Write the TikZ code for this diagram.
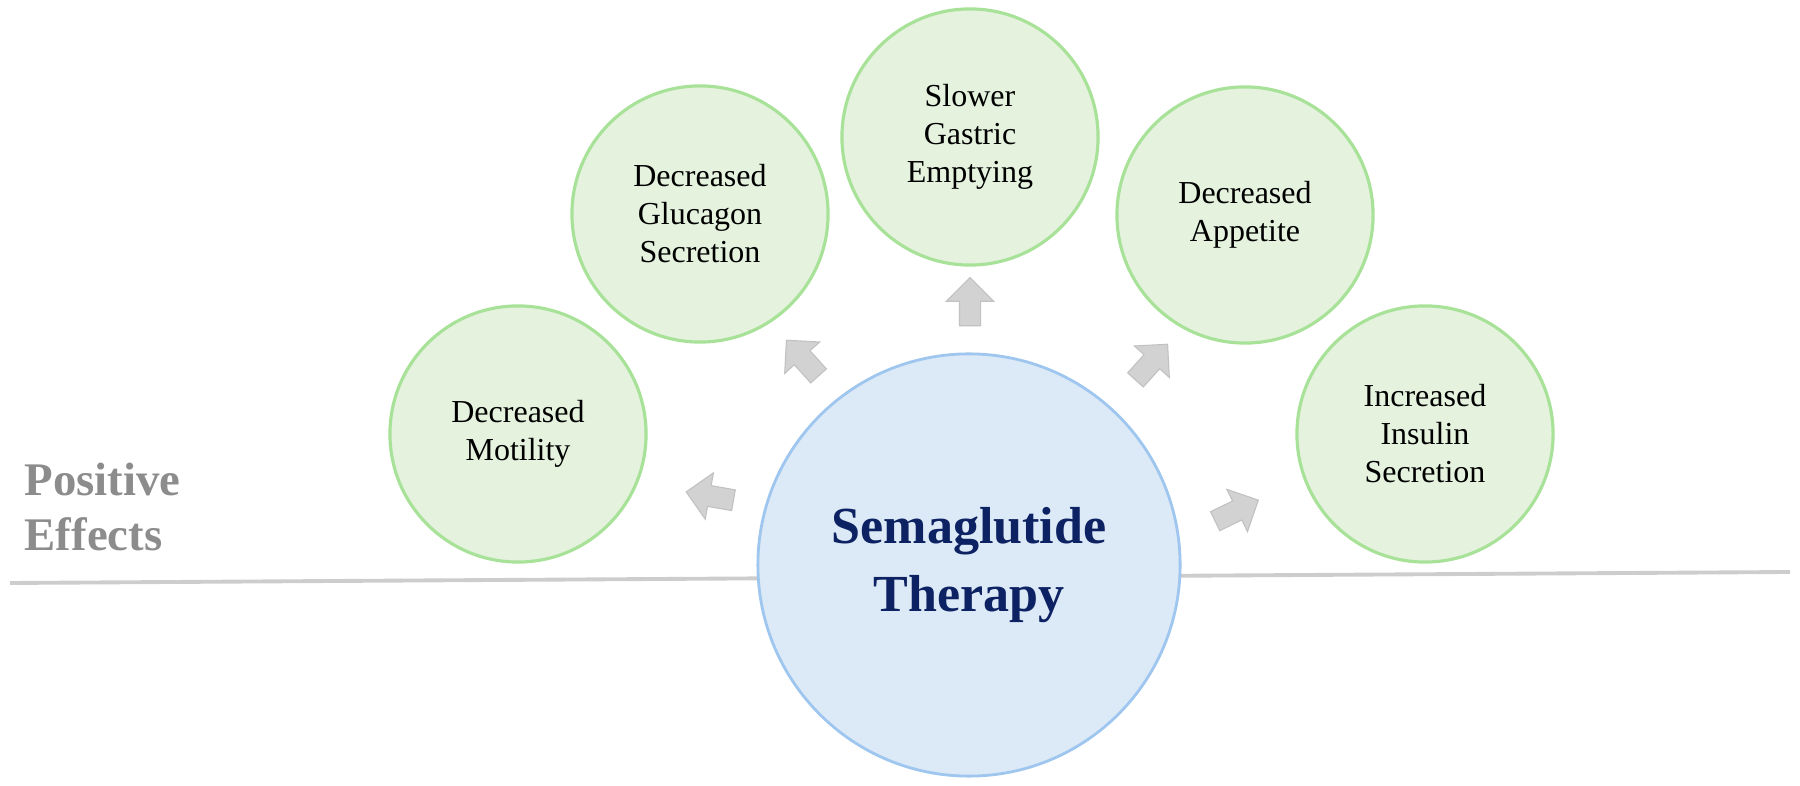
\documentclass[tikz,border=0pt]{standalone}
\usepackage{fontspec}
\setmainfont{Liberation Serif}
\usepackage{tikz}
\usetikzlibrary{arrows,shapes.arrows,positioning}
\definecolor{effectfill}{RGB}{228,242,222}
\definecolor{effectline}{RGB}{168,226,152}
\definecolor{therapyfill}{RGB}{220,233,247}
\definecolor{therapyline}{RGB}{158,198,238}
\definecolor{therapytext}{RGB}{12,34,98}
\definecolor{pilgray}{RGB}{210,210,210}
\definecolor{labelgray}{RGB}{140,140,140}
\definecolor{rulegray}{RGB}{205,205,205}
\tikzset{
    %Define style for effect circles
    effect/.style={
           circle,
           draw=effectline, line width=0.9pt,
           fill=effectfill,
           minimum size=2.56cm,
           inner sep=0pt,
           font=\fontsize{9.1pt}{10.8pt}\selectfont,
           align=center},
    %Define style for the therapy circle
    therapy/.style={
           circle,
           draw=therapyline, line width=0.8pt,
           fill=therapyfill,
           minimum size=4.22cm,
           inner sep=0pt,
           text=therapytext,
           font=\fontsize{14.8pt}{19.1pt}\selectfont\bfseries,
           align=center},
    % Define block arrow style
    pil/.style={
           single arrow,
           fill=pilgray,
           draw=pilgray!92!black, line width=0.3pt,
           minimum height=0.48cm,
           inner xsep=0pt,
           inner ysep=0.1cm,
           single arrow head extend=0.13cm,
           single arrow head indent=0pt},
    % Define style for the side label
    sidelabel/.style={
           text=labelgray,
           font=\fontsize{13.3pt}{15.6pt}\selectfont\bfseries,
           align=left,
           inner sep=0pt}
}
\begin{document}
\begin{tikzpicture}[x=0.01cm,y=-0.01cm]
\useasboundingbox (0,0) rectangle (1800,786);
 %rule
\coordinate (l) at (10,583);
\coordinate (r) at (1790,572);
\draw[rulegray, line width=1.1pt] (l) -- (r);
 %nodes
\node[therapy](ther) at (969,565){Semaglutide\\Therapy};
\node[effect](mot) at (518,434){Decreased\\Motility};
\node[effect](glu) at (700,214){Decreased\\Glucagon\\Secretion};
\node[effect](gas) at (970,137){Slower\\Gastric\\Emptying};
\node[effect](app) at (1245,215){Decreased\\Appetite};
\node[effect](ins) at (1425,434){Increased\\Insulin\\Secretion};
\node[sidelabel, anchor=west](pos) at (24,507){Positive\\Effects};
 %arrows
\node[pil, rotate=170](a1) at (715,497){};
\node[pil, rotate=132](a2) at (806,362){};
\node[pil, rotate=90](a3) at (970,307){};
\node[pil, rotate=48](a4) at (1148,366){};
\node[pil, rotate=26](a5) at (1232,513){};
\end{tikzpicture}
\end{document}
